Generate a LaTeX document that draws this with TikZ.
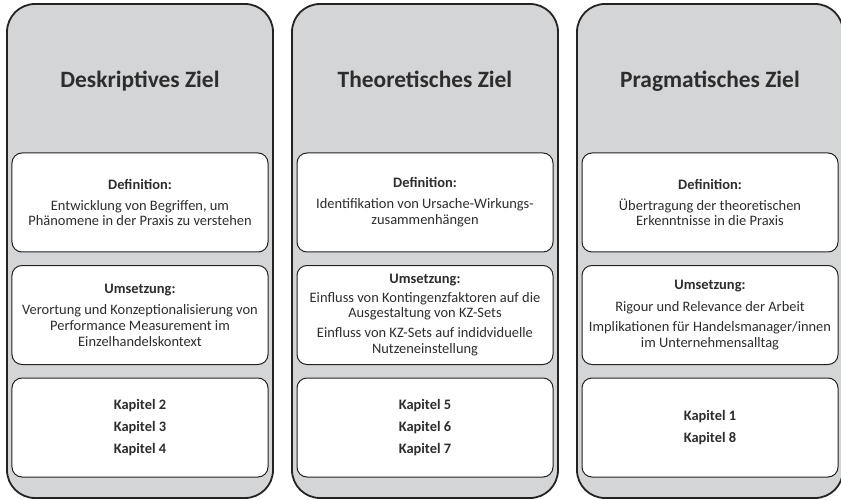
\documentclass[tikz,border=0pt]{standalone}
\usepackage{fontspec}
\setmainfont{Carlito}
\usetikzlibrary{positioning}
\definecolor{zielgrau}{RGB}{212,213,215}
\definecolor{rahmen}{RGB}{35,35,35}
\definecolor{schrift}{RGB}{45,45,45}

\tikzset{
  spalte/.style={draw=rahmen, fill=zielgrau, line width=1.8bp, rounded corners=28bp,
                 minimum width=266bp, minimum height=494bp, inner sep=0pt},
  feld/.style={draw=rahmen, fill=white, line width=1bp, rounded corners=10bp,
               minimum width=256bp, minimum height=99bp, inner sep=0pt, align=center,
               text=schrift, font=\fontsize{14.5}{16}\selectfont},
  kapitel/.style={feld, font=\fontsize{14.5}{16}\selectfont\bfseries},
  titel/.style={text=schrift, font=\fontsize{23.5}{28}\selectfont\bfseries,
                text height=17bp, text depth=5bp},
}

\begin{document}
\begin{tikzpicture}[x=1bp, y=-1bp]
  \useasboundingbox (0,0) rectangle (841,500);
  \clip (0,0) rectangle (841,500);

  % Spalten
  \node[spalte] (sp1) at (140,251) {};
  \node[spalte] (sp2) at (425,251) {};
  \node[spalte] (sp3) at (710,251) {};

  % Titel
  \node[titel] (t1) at (140,82) {Deskriptives Ziel};
  \node[titel] (t2) at (425,82) {Theoretisches Ziel};
  \node[titel] (t3) at (710,82) {Pragmatisches Ziel};

  % Deskriptives Ziel
  \node[feld] (def1) at (140,202.5)
    {\textbf{Definition:}\\[5bp]
     Entwicklung von Begriffen, um\\ Phänomene in der Praxis zu verstehen};
  \node[feld, below=12.5bp of def1] (ums1)
    {\textbf{Umsetzung:}\\[5bp]
     Verortung und Konzeptionalisierung von\\ Performance Measurement im\\
     Einzelhandelskontext};
  \node[kapitel, below=12.5bp of ums1] (kap1)
    {Kapitel 2\\[6bp] Kapitel 3\\[6bp] Kapitel 4};

  % Theoretisches Ziel
  \node[feld] (def2) at (425,202.5)
    {\textbf{Definition:}\\[5bp]
     Identifikation von Ursache-Wirkungs-\\ zusammenhängen};
  \node[feld, below=12.5bp of def2] (ums2)
    {\textbf{Umsetzung:}\\[3bp]
     Einfluss von Kontingenzfaktoren auf die\\ Ausgestaltung von KZ-Sets\\[4bp]
     Einfluss von KZ-Sets auf indidviduelle\\ Nutzeneinstellung};
  \node[kapitel, below=12.5bp of ums2] (kap2)
    {Kapitel 5\\[6bp] Kapitel 6\\[6bp] Kapitel 7};

  % Pragmatisches Ziel
  \node[feld] (def3) at (710,202.5)
    {\textbf{Definition:}\\[5bp]
     Übertragung der theoretischen\\ Erkenntnisse in die Praxis};
  \node[feld, below=12.5bp of def3] (ums3)
    {\textbf{Umsetzung:}\\[6bp]
     Rigour und Relevance der Arbeit\\[4bp]
     Implikationen für Handelsmanager/innen\\ im Unternehmensalltag};
  \node[kapitel, below=12.5bp of ums3] (kap3)
    {Kapitel 1\\[6bp] Kapitel 8};
\end{tikzpicture}
\end{document}
